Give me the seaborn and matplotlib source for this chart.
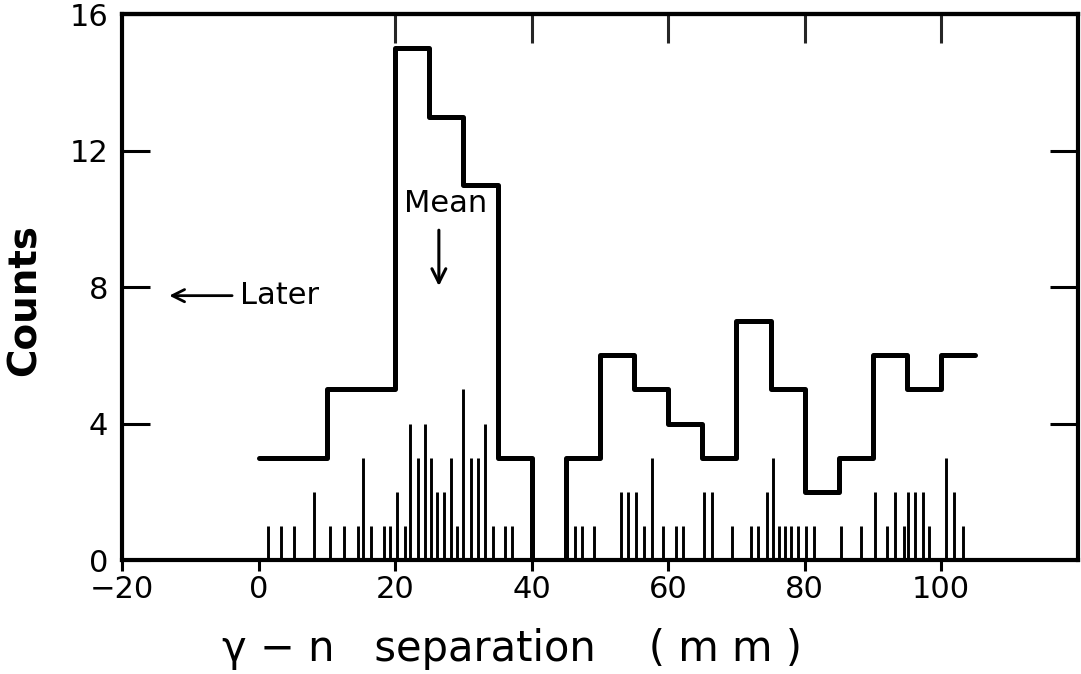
import numpy as np
import pandas as pd
import matplotlib
matplotlib.use("Agg")
import matplotlib.pyplot as plt
import seaborn as sns

# ---- data ----
bin_edges = list(range(0, 110, 5))
bin_counts = [3, 3, 5, 5, 15, 13, 11, 3, 0, 3, 6, 5, 4, 3, 7, 5, 2, 3, 6, 5, 6]

event_x = [1.3, 3.2, 5.2, 8.1, 10.4, 12.5, 14.5, 15.3, 16.4, 18.3, 19.2, 20.3,
           21.4, 22.2, 23.3, 24.3, 25.2, 26.1, 27.2, 28.2, 29.1, 30.0, 31.1,
           32.2, 33.2, 34.3, 36.1, 37.1, 40.2, 46.3, 47.4, 49.2, 53.1, 54.1,
           55.3, 56.4, 57.6, 59.2, 61.2, 62.2, 65.3, 66.4, 69.3, 72.1, 73.2,
           74.4, 75.4, 76.3, 77.1, 78.0, 79.0, 80.2, 81.4, 85.3, 88.3, 90.3,
           92.0, 93.2, 94.5, 95.2, 96.2, 97.3, 98.2, 100.7, 101.9, 103.2]
event_h = [1, 1, 1, 2, 1, 1, 1, 3, 1, 1, 1, 2,
           1, 4, 3, 4, 3, 2, 2, 3, 1, 5, 3,
           3, 4, 1, 1, 1, 1, 1, 1, 1, 2, 2,
           2, 1, 3, 1, 1, 1, 2, 2, 1, 1, 1,
           2, 3, 1, 1, 1, 1, 1, 1, 1, 1, 2,
           1, 2, 1, 2, 2, 2, 1, 3, 2, 1]

x_ticks = [-20, 0, 20, 40, 60, 80, 100]
x_ticklabels = ["\u221220", "0", "20", "40", "60", "80", "100"]
top_ticks = [20, 40, 60, 80, 100]
y_ticks = [0, 4, 8, 12, 16]

sns.set_theme(style="white")
plt.rcParams['font.family'] = ['DejaVu Sans']

fig = plt.figure(figsize=(10.81, 6.74), dpi=100)
ax = fig.add_axes([0.113, 0.169, 0.884, 0.81])

# event markers
ax.vlines(event_x, 0, event_h, color="black", linewidth=2.1)

# histogram outline
hist_df = pd.DataFrame({
    "sep": [e + 2.5 for e in bin_edges[:-1]],
    "n": bin_counts,
})
sns.histplot(data=hist_df, x="sep", weights="n", bins=bin_edges,
             element="step", fill=False, color="black", linewidth=3.6, ax=ax)

ax.set_xlim(-20, 120)
ax.set_ylim(0, 16)
ax.set_xticks(x_ticks)
ax.set_xticklabels(x_ticklabels)
ax.set_yticks(y_ticks)

for s in ax.spines.values():
    s.set_visible(True)
    s.set_color("black")
    s.set_linewidth(3)

ax.tick_params(axis="x", direction="out", length=8, width=2.2, labelsize=22,
               pad=3, colors="black", bottom=True)
ax.tick_params(axis="y", direction="in", length=20, width=2.2, labelsize=22,
               pad=10, colors="black", left=True, right=True)

sec = ax.secondary_xaxis("top")
sec.set_xticks(top_ticks)
sec.tick_params(direction="in", length=21, width=2.2, labeltop=False)
sec.spines["top"].set_linewidth(3)

ax.set_ylabel("Counts", fontsize=28, fontweight="bold", color="black")
ax.yaxis.set_label_coords(-0.082, 0.476)
ax.set_xlabel("\u03b3 \u2212 n   separation    ( m m )", fontsize=30, color="black")
ax.xaxis.set_label_coords(0.408, -0.125)

ax.text(27.4, 10.45, "Mean", fontsize=22, ha="center", va="center", color="black")
ax.annotate("", xy=(26.4, 7.95), xytext=(26.4, 9.75),
            arrowprops=dict(arrowstyle="->", color="black", lw=2.2,
                            mutation_scale=25))
ax.annotate("Later", xy=(-13.1, 7.75), xytext=(-2.8, 7.75),
            fontsize=22, ha="left", va="center", color="black",
            arrowprops=dict(arrowstyle="->", color="black", lw=2.0,
                            mutation_scale=22, shrinkA=3, shrinkB=0))

fig.savefig("out.png", dpi=100)
